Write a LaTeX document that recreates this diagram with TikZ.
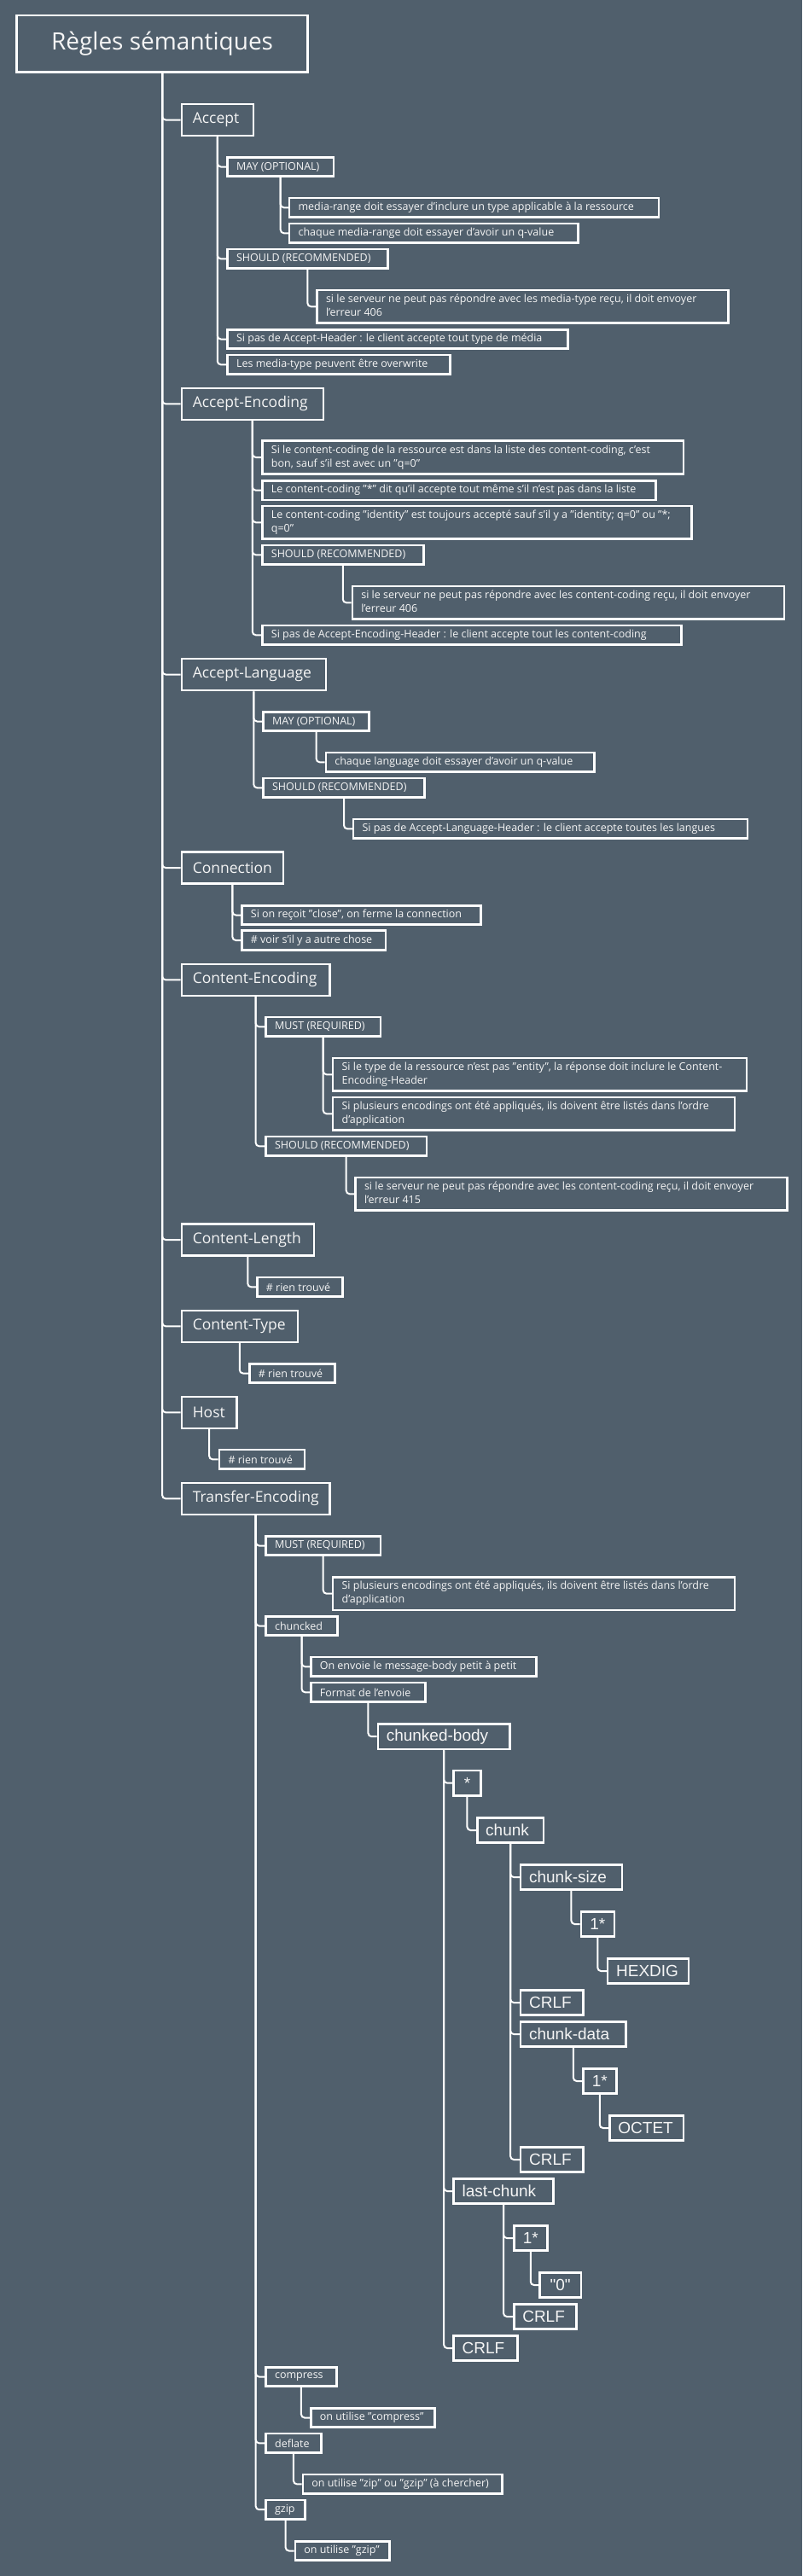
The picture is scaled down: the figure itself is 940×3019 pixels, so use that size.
\documentclass[tikz,border=0pt]{standalone}
\usepackage{fontspec}
\setmainfont{Open Sans}
\newfontfamily\chunkfont{Liberation Sans}
\definecolor{bg}{RGB}{80,95,108}
\definecolor{txt}{RGB}{245,245,245}
\def\endlw#1{\egroup\ifdim\wd0<#1pt\hbox to #1pt{\box0\hfil}\else\box0\fi}
\newcommand\two[2]{\begin{tabular}{@{}l@{}}#1\\#2\end{tabular}}
\begin{document}
\begin{tikzpicture}[x=1pt,y=-1pt,
  box/.style={draw=white, line width=2.6pt, fill=bg, text=txt, inner xsep=8pt, inner ysep=2pt, anchor=west, xshift=1.5pt},
  lw/.code={\pgfmathsetmacro\tw{#1-2*\pgfkeysvalueof{/pgf/inner xsep}}\edef\tmp{\noexpand\pgfkeysalso{execute at begin node={\noexpand\setbox0=\noexpand\hbox\noexpand\bgroup}, execute at end node={\noexpand\endlw{\tw}}}}\tmp},
  rootbox/.style={box, font=\fontsize{28}{32}\selectfont, minimum height=66pt},
  lone/.style={box, inner xsep=13pt, font=\fontsize{17.5}{20}\selectfont, minimum height=37pt},
  leaf/.style={box, inner xsep=10.5pt, font=\fontsize{12.5}{16}\selectfont, minimum height=22.5pt},
  leaftwo/.style={box, inner xsep=10.5pt, font=\fontsize{12.5}{16}\selectfont, minimum height=38.5pt},
  kbox/.style={box, inner xsep=10pt, font=\chunkfont\fontsize{19}{22}\selectfont, minimum height=29.5pt},
  conn/.style={draw=white, line width=2pt, rounded corners=4pt}]
\fill[bg] (0,0) rectangle (940,3019);
\useasboundingbox (0,0) rectangle (940,3019);

% root
\node[rootbox, minimum width=341pt] (root) at (16.8,51.2) {Règles sémantiques};

% level 1
\node[lone, lw=84] (accept) at (210,140.5) {Accept};
\node[lone, lw=166] (acceptenc) at (210,473.3) {Accept-Encoding};
\node[lone, lw=169] (acceptlang) at (210,790.5) {Accept-Language};
\node[lone, lw=118.5] (conn) at (210,1017) {Connection};
\node[lone, lw=173.7] (contenc) at (210,1148.3) {Content-Encoding};
\node[lone, lw=155] (contlen) at (210,1453) {Content-Length};
\node[lone, lw=136] (conttype) at (210,1554.3) {Content-Type};
\node[lone, lw=64.6] (host) at (210,1655.3) {Host};
\node[lone, lw=173.7] (transenc) at (210,1756.3) {Transfer-Encoding};

% Accept
\node[leaf, lw=124.2] (amay) at (263.8,195.5) {MAY (OPTIONAL)};
\node[leaf, lw=432.9] (amone) at (336.3,243.3) {media-range doit essayer d'inclure un type applicable à la ressource};
\node[leaf, lw=338.2] (amtwo) at (336.3,273.3) {chaque media-range doit essayer d'avoir un q-value};
\node[leaf, lw=187.6] (ashould) at (263.8,303.3) {SHOULD (RECOMMENDED)};
\node[leaftwo, lw=482] (asone) at (368.7,359.3) {\two{si le serveur ne peut pas répondre avec les media-type reçu, il doit envoyer}{l'erreur 406}};
\node[leaf, lw=398.7] (anohdr) at (263.8,397.5) {Si pas de Accept-Header : le client accepte tout type de média};
\node[leaf, lw=260.8] (aover) at (263.8,427.3) {Les media-type peuvent être overwrite};

% Accept-Encoding
\node[leaftwo, lw=493.4] (aeone) at (304.6,536) {\two{Si le content-coding de la ressource est dans la liste des content-coding, c'est}{bon, sauf s'il est avec un "q=0"}};
\node[leaf, lw=461] (aetwo) at (304.6,574.7) {Le content-coding "*" dit qu'il accepte tout même s'il n'est pas dans la liste};
\node[leaftwo, lw=503] (aethree) at (304.6,612.3) {\two{Le content-coding "identity" est toujours accepté sauf s'il y a "identity; q=0" ou "*;}{q=0"}};
\node[leaf, lw=188.8] (aeshould) at (304.6,650.3) {SHOULD (RECOMMENDED)};
\node[leaftwo, lw=506] (aesone) at (410,706.3) {\two{si le serveur ne peut pas répondre avec les content-coding reçu, il doit envoyer}{l'erreur 406}};
\node[leaf, lw=491] (aenohdr) at (304.6,744.3) {Si pas de Accept-Encoding-Header : le client accepte tout les content-coding};

% Accept-Language
\node[leaf, lw=124.1] (almay) at (305.8,845.5) {MAY (OPTIONAL)};
\node[leaf, lw=314.6] (almone) at (379,893.3) {chaque language doit essayer d'avoir un q-value};
\node[leaf, lw=188.8] (alshould) at (305.8,923.3) {SHOULD (RECOMMENDED)};
\node[leaf, lw=461.7] (alsone) at (411.3,971.3) {Si pas de Accept-Language-Header : le client accepte toutes les langues};

% Connection
\node[leaf, lw=280] (cone) at (280.6,1072.5) {Si on reçoit "close", on ferme la connection};
\node[leaf, lw=168.4] (ctwo) at (280.6,1102) {\# voir s'il y a autre chose};

% Content-Encoding
\node[leaf, lw=134.2] (cemust) at (308.8,1203.3) {MUST (REQUIRED)};
\node[leaftwo, lw=485] (cemone) at (387.3,1259.3) {\two{Si le type de la ressource n'est pas "entity", la réponse doit inclure le Content-}{Encoding-Header}};
\node[leaftwo, lw=470.7] (cemtwo) at (387.3,1305.3) {\two{Si plusieurs encodings ont été appliqués, ils doivent être listés dans l'ordre}{d'application}};
\node[leaf, lw=188.2] (ceshould) at (308.8,1343.3) {SHOULD (RECOMMENDED)};
\node[leaftwo, lw=506] (cesone) at (413.7,1399.3) {\two{si le serveur ne peut pas répondre avec les content-coding reçu, il doit envoyer}{l'erreur 415}};

% Content-Length, Content-Type, Host
\node[leaf, lw=100.1] (clone) at (298.6,1508.3) {\# rien trouvé};
\node[leaf, lw=100.1] (ctone) at (289.6,1609.5) {\# rien trouvé};
\node[leaf, lw=100.1] (hone) at (254.2,1710.3) {\# rien trouvé};

% Transfer-Encoding
\node[leaf, lw=134.2] (temust) at (308.8,1811.5) {MUST (REQUIRED)};
\node[leaftwo, lw=470.7] (temone) at (387.3,1867.7) {\two{Si plusieurs encodings ont été appliqués, ils doivent être listés dans l'ordre}{d'application}};
\node[leaf, lw=83.9] (techunk) at (308.8,1905.5) {chuncked};
\node[leaf, lw=264.4] (tecone) at (361.5,1953.3) {On envoie le message-body petit à petit};
\node[leaf, lw=134.3] (tectwo) at (361.5,1983.3) {Format de l'envoie};
\node[leaf, lw=82.7] (tecomp) at (308.8,2785.5) {compress};
\node[leaf, lw=145.1] (tecompone) at (361.5,2833.5) {on utilise "compress"};
\node[leaf, lw=64.7] (tedefl) at (308.8,2863.3) {deflate};
\node[leaf, lw=233.7] (tedeflone) at (352,2911.3) {on utilise "zip" ou "gzip" (à chercher)};
\node[leaf, lw=46.1] (tegzip) at (308.8,2941.2) {gzip};
\node[leaf, lw=110.8] (tegzipone) at (343,2989.5) {on utilise "gzip"};

% chunked-body grammar
\node[kbox, lw=154.7] (cb) at (440,2035.2) {chunked-body};
\node[kbox, minimum width=31.7pt, inner xsep=4pt] (star) at (528.8,2089.7) {*};
\node[kbox, lw=77.9] (chunk) at (556.4,2145) {chunk};
\node[kbox, lw=118.7] (csize) at (607.3,2200) {chunk-size};
\node[kbox, minimum width=39pt, inner xsep=4pt] (oneone) at (678,2255) {1*};
\node[kbox, lw=94.7] (hexdig) at (709.3,2310) {HEXDIG};
\node[kbox, lw=73.2] (crlfone) at (607.3,2347) {CRLF};
\node[kbox, lw=123.5] (cdata) at (607.3,2384) {chunk-data};
\node[kbox, minimum width=38.9pt, inner xsep=4pt] (onetwo) at (680.5,2439) {1*};
\node[kbox, lw=86.4] (octet) at (711.6,2494) {OCTET};
\node[kbox, lw=73.2] (crlftwo) at (607.3,2531) {CRLF};
\node[kbox, lw=116.9] (last) at (528.8,2568) {last-chunk};
\node[kbox, minimum width=39pt, inner xsep=4pt] (onethree) at (599.5,2623) {1*};
\node[kbox, minimum width=48.5pt, inner xsep=4pt] (zero) at (629.5,2678) {"0"};
\node[kbox, lw=73.2] (crlfthree) at (599.5,2715) {CRLF};
\node[kbox, lw=74.9] (crlffour) at (528.8,2752) {CRLF};

% connectors
\foreach \c in {accept,acceptenc,acceptlang,conn,contenc,contlen,conttype,host,transenc}
  \draw[conn] (root.south) |- (\c.west);
\foreach \c in {amay,ashould,anohdr,aover} \draw[conn] (accept.south) |- (\c.west);
\foreach \c in {amone,amtwo} \draw[conn] (amay.south) |- (\c.west);
\draw[conn] (ashould.south) |- (asone.west);
\foreach \c in {aeone,aetwo,aethree,aeshould,aenohdr} \draw[conn] (acceptenc.south) |- (\c.west);
\draw[conn] (aeshould.south) |- (aesone.west);
\foreach \c in {almay,alshould} \draw[conn] (acceptlang.south) |- (\c.west);
\draw[conn] (almay.south) |- (almone.west);
\draw[conn] (alshould.south) |- (alsone.west);
\foreach \c in {cone,ctwo} \draw[conn] (conn.south) |- (\c.west);
\foreach \c in {cemust,ceshould} \draw[conn] (contenc.south) |- (\c.west);
\foreach \c in {cemone,cemtwo} \draw[conn] (cemust.south) |- (\c.west);
\draw[conn] (ceshould.south) |- (cesone.west);
\draw[conn] (contlen.south) |- (clone.west);
\draw[conn] (conttype.south) |- (ctone.west);
\draw[conn] (host.south) |- (hone.west);
\foreach \c in {temust,techunk,tecomp,tedefl,tegzip} \draw[conn] (transenc.south) |- (\c.west);
\draw[conn] (temust.south) |- (temone.west);
\foreach \c in {tecone,tectwo} \draw[conn] (techunk.south) |- (\c.west);
\draw[conn] (tecomp.south) |- (tecompone.west);
\draw[conn] (tedefl.south) |- (tedeflone.west);
\draw[conn] (tegzip.south) |- (tegzipone.west);
\draw[conn] (tectwo.south) |- (cb.west);
\foreach \c in {star,last,crlffour} \draw[conn] (cb.south) |- (\c.west);
\draw[conn] (star.south) |- (chunk.west);
\foreach \c in {csize,crlfone,cdata,crlftwo} \draw[conn] (chunk.south) |- (\c.west);
\draw[conn] (csize.south) |- (oneone.west);
\draw[conn] (oneone.south) |- (hexdig.west);
\draw[conn] (cdata.south) |- (onetwo.west);
\draw[conn] (onetwo.south) |- (octet.west);
\foreach \c in {onethree,crlfthree} \draw[conn] (last.south) |- (\c.west);
\draw[conn] (onethree.south) |- (zero.west);
\end{tikzpicture}
\end{document}
